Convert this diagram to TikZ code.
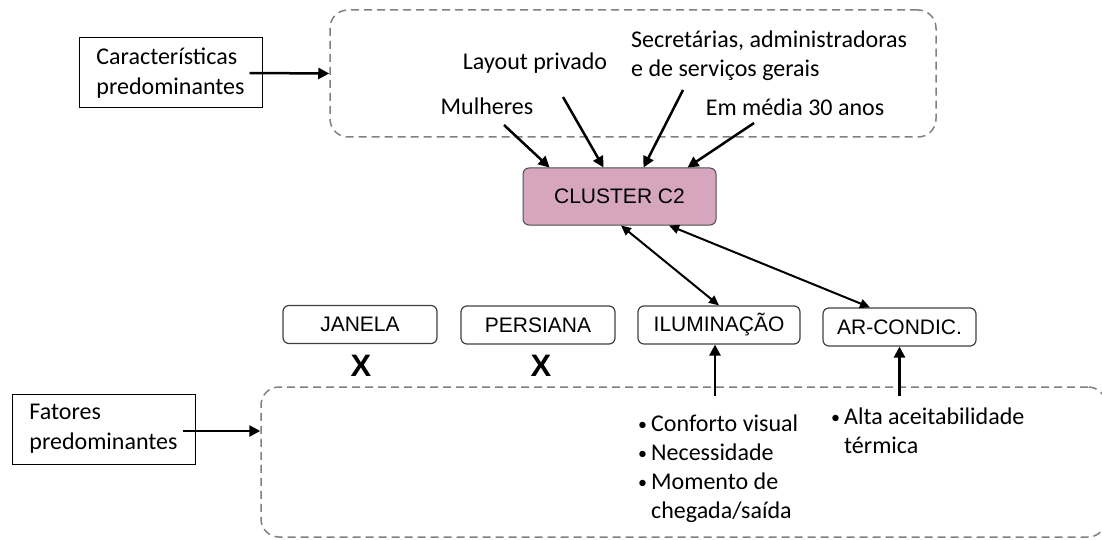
\documentclass[tikz,border=0pt]{standalone}
\usepackage{fontspec}
\setmainfont{Carlito}
\newfontfamily\arialfont{Liberation Sans}
\usetikzlibrary{arrows.meta}
\usetikzlibrary{positioning}
\definecolor{clusterpink}{HTML}{D5A6BD}
\definecolor{dashgray}{HTML}{808080}
\newcommand{\smallbullet}{\raisebox{1.5pt}{\scalebox{0.75}{\textbullet}}}

\begin{document}
\begin{tikzpicture}[x=1pt,y=-1pt,>={Triangle[length=11pt,width=11pt]},
    text box/.style={rectangle,draw,line width=1pt,align=left,inner xsep=10pt,minimum width=183pt,minimum height=70pt,font=\fontsize{24}{30}\selectfont},
    dash box/.style={rectangle,draw=dashgray,line width=1.5pt,dash pattern=on 8pt off 5pt,rounded corners=18pt},
    cluster node/.style={rectangle,draw=black!70,fill=clusterpink,line width=1pt,rounded corners=6pt,minimum width=193pt,minimum height=57pt,font=\arialfont\fontsize{21}{25}\selectfont},
    factor node/.style={rectangle,draw=black!75,line width=1.2pt,rounded corners=6pt,minimum width=154pt,minimum height=38pt,font=\arialfont\fontsize{21}{25}\selectfont},
    label node/.style={inner sep=0pt,font=\fontsize{24}{29}\selectfont},
    cross node/.style={inner sep=0pt,font=\arialfont\bfseries\fontsize{31}{31}\selectfont},
    arr/.style={->,line width=2.5pt},
    biarr/.style={<->,line width=2pt,>={Triangle[length=10pt,width=9pt]}}]
  \useasboundingbox (0,0) rectangle (1102,540);
  \begin{scope}
    \clip (0,0) rectangle (1102,540);
    % dashed groups
    \node[dash box,minimum width=606pt,minimum height=127pt] (topgroup) at (633,73.5) {};
    \node[dash box,minimum width=845pt,minimum height=150pt] (botgroup) at (683.5,462) {};
  \end{scope}

  \node[text box] (carac) at (170.5,73) {Características\\predominantes};
  \node[text box] (fator) at (103.5,429) {Fatores\\predominantes};

  % characteristics
  \node[label node] (mulher) at (487,106) {Mulheres};
  \node[label node] (layout) at (535,63) {Layout privado};
  \node[label node,align=left,anchor=west] (secret) at (631,56) {Secretárias, administradoras\\e de serviços gerais};
  \node[label node] (idade) at (795,107) {Em média 30 anos};

  \node[cluster node] (cluster) at (619.5,196.5) {CLUSTER C2};

  % factors
  \node[factor node] (janela) at (360,324.5) {JANELA};
  \node[factor node] (persiana) at (538,325) {PERSIANA};
  \node[factor node,minimum width=162pt] (ilum) at (719,325) {ILUMINAÇÃO};
  \node[factor node,minimum width=153pt] (arcond) at (899.5,327) {AR-CONDIC.};
  \node[cross node] (janelax) at (361,366) {X};
  \node[cross node] (persianax) at (541,366) {X};

  \node[label node,anchor=north west] (ilumlist) at (638,411) {\begin{tabular}{@{}l@{\hspace{4pt}}l@{}}\smallbullet & Conforto visual\\ \smallbullet & Necessidade\\ \smallbullet & Momento de\\ & chegada/saída\end{tabular}};
  \node[label node,anchor=north west] (arcondlist) at (831,404) {\begin{tabular}{@{}l@{\hspace{4pt}}l@{}}\smallbullet & Alta aceitabilidade\\ & térmica\end{tabular}};

  \path[arr] ([xshift=-13pt]carac.east) edge (topgroup.west);
  \path[arr] ([xshift=-13pt,yshift=-2pt]fator.east) edge ([yshift=-2pt]botgroup.west |- fator.east);
  \path[arr] ([xshift=17pt,yshift=-19pt]mulher.center) edge ([xshift=27pt]cluster.north west);
  \path[arr] ([xshift=28pt,yshift=-34pt]layout.center) edge ([xshift=81pt]cluster.north west);
  \path[arr] ([xshift=52pt,yshift=-34pt]secret.west) edge ([xshift=121pt]cluster.north west);
  \path[arr] ([xshift=-41pt,yshift=-16pt]idade.center) edge ([xshift=165pt]cluster.north west);
  \path[biarr] ([xshift=1.5pt]cluster.south) edge (ilum.north);
  \path[biarr] ([xshift=49.5pt]cluster.south) edge ([xshift=-29.5pt]arcond.north);
  \path[arr] ([xshift=-4pt,yshift=-51pt]ilum.south) edge ([xshift=-4pt]ilum.south);
  \path[arr] ([yshift=-49pt]arcond.south) edge (arcond.south);
\end{tikzpicture}
\end{document}
